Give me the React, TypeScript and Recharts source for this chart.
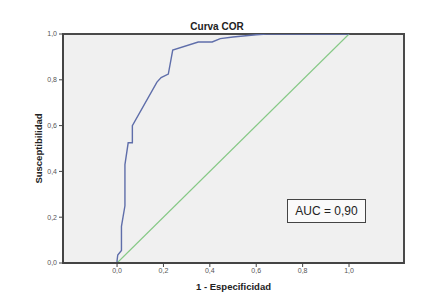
import { LineChart, Line, XAxis, YAxis, ReferenceArea, Label } from "recharts";

// ROC curve (1 - specificity, sensitivity)
const fpr = [0, 0, 0.003, 0.019, 0.019, 0.034, 0.034, 0.048, 0.066, 0.066, 0.172, 0.19, 0.221, 0.24, 0.35, 0.41, 0.445, 0.5, 0.6, 0.645, 1];
const tpr = [0, 0.01, 0.035, 0.055, 0.16, 0.25, 0.43, 0.525, 0.525, 0.6, 0.79, 0.81, 0.825, 0.93, 0.965, 0.965, 0.98, 0.987, 0.997, 1, 1];
const refX = [0, 1];
const refY = [0, 1];
const ticks = [0, 0.2, 0.4, 0.6, 0.8, 1];
const xDomain = [-0.233, 1.237];

const rocData = fpr.map((x, i) => ({ x, y: tpr[i] }));
const refData = refX.map((x, i) => ({ x, y: refY[i] }));

const fmt = (v: number) => v.toFixed(1).replace(".", ",");
const font = "'Liberation Sans', Arial, sans-serif";

export default function App() {
  return (
    <div style={{ position: "absolute", left: 0, top: 0, width: 448, height: 304, background: "#fff", fontFamily: font }}>
      <div style={{ position: "absolute", left: 0, width: 434, top: 21, textAlign: "center", fontSize: 10, fontWeight: 700, color: "#222" }}>Curva COR</div>
      <LineChart width={448} height={304} margin={{ top: 34, right: 44, bottom: 0, left: 0 }}>
        <ReferenceArea x1={xDomain[0]} x2={xDomain[1]} y1={0} y2={1} fill="#f0f0f0" fillOpacity={1} stroke="#4a4a4a" strokeWidth={2} ifOverflow="visible" />
        <XAxis type="number" dataKey="x" domain={xDomain} ticks={ticks} tickFormatter={fmt} allowDataOverflow
          height={41} axisLine={{ stroke: "#444", strokeWidth: 2 }} tickLine={{ stroke: "#444" }} tickSize={4} tickMargin={1}
          tick={{ fontSize: 7, fill: "#555", fontFamily: font }}>
          <Label value="1 - Especificidad" position="insideBottom" offset={14} style={{ fontSize: 9.5, fontWeight: 700, fill: "#222", fontFamily: font }} />
        </XAxis>
        <YAxis type="number" dataKey="y" domain={[0, 1]} ticks={ticks} tickFormatter={fmt} allowDataOverflow
          width={63} axisLine={{ stroke: "#444", strokeWidth: 2 }} tickLine={{ stroke: "#444" }} tickSize={4} tickMargin={2}
          tick={{ fontSize: 7, fill: "#555", fontFamily: font }}>
          <Label value="Susceptibilidad" angle={-90} position="insideLeft" offset={39} style={{ textAnchor: "middle", fontSize: 9.5, fontWeight: 700, fill: "#222", fontFamily: font }} />
        </YAxis>
        <Line data={refData} dataKey="y" type="linear" stroke="#86c986" strokeWidth={1.2} dot={false} isAnimationActive={false} />
        <Line data={rocData} dataKey="y" type="linear" stroke="#5f6eaa" strokeWidth={1.4} dot={false} isAnimationActive={false} />
      </LineChart>
      <div style={{ position: "absolute", left: 287, top: 199, width: 77, height: 22, border: "1px solid #444", background: "#fafafa", display: "flex", alignItems: "center", justifyContent: "center", fontSize: 12, color: "#222" }}>AUC = 0,90</div>
    </div>
  );
}
